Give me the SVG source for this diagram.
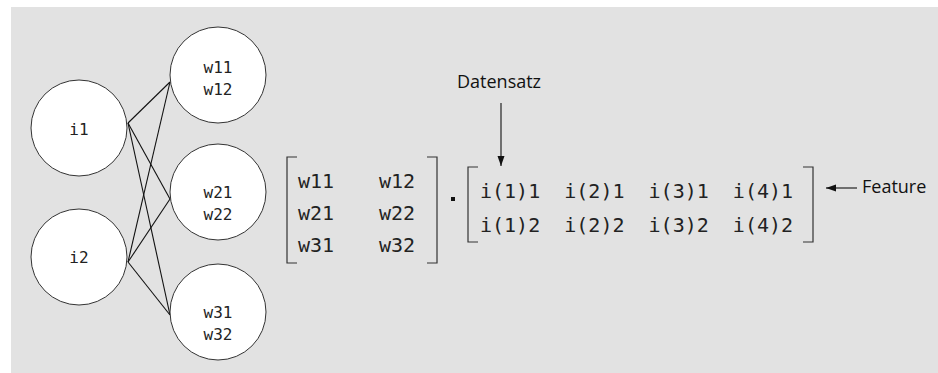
<svg xmlns="http://www.w3.org/2000/svg" width="938" height="373" viewBox="0 0 938 373">
<style>
.node{fill:#fff;stroke:#333;stroke-width:1}
.mono{font-family:"DejaVu Sans Mono","Liberation Mono",monospace;fill:#222}
.ntxt{font-size:16px;text-anchor:middle}
.mat{font-size:20px}
.lbl{font-family:"Open Sans","Liberation Sans",sans-serif;font-size:18px;fill:#111}
.br{fill:none;stroke:#333;stroke-width:1.2}
.edge{stroke:#111;stroke-width:1.1;fill:none}
</style>
<defs>
<marker id="ah" markerWidth="10" markerHeight="8" refX="10" refY="3.5" orient="auto" markerUnits="userSpaceOnUse">
<path d="M0,0 L10,3.5 L0,7 Z" fill="#111"/>
</marker>
</defs>
<rect x="11" y="7" width="927" height="366" fill="#e2e2e2"/>
<g id="connectors">
<line class="edge" x1="128" y1="123" x2="170" y2="82"/>
<line class="edge" x1="128" y1="123" x2="170" y2="199"/>
<line class="edge" x1="128" y1="123" x2="170" y2="315"/>
<line class="edge" x1="128" y1="262" x2="170" y2="82"/>
<line class="edge" x1="128" y1="262" x2="170" y2="199"/>
<line class="edge" x1="128" y1="262" x2="170" y2="315"/>
<line class="edge" x1="501" y1="103" x2="501" y2="166" marker-end="url(#ah)"/>
<line class="edge" x1="857" y1="188" x2="826" y2="188" marker-end="url(#ah)"/>
</g>
<g id="i1">
<circle class="node" cx="79" cy="128" r="48"/>
<text class="mono ntxt" x="79" y="135">i1</text>
</g>
<g id="i2">
<circle class="node" cx="79" cy="257" r="48"/>
<text class="mono ntxt" x="79" y="263">i2</text>
</g>
<g id="w1">
<circle class="node" cx="218" cy="75" r="48"/>
<text class="mono ntxt" x="218" y="73">w11</text>
<text class="mono ntxt" x="218" y="95">w12</text>
</g>
<g id="w2">
<circle class="node" cx="218" cy="192" r="48"/>
<text class="mono ntxt" x="218" y="198">w21</text>
<text class="mono ntxt" x="218" y="220">w22</text>
</g>
<g id="w3">
<circle class="node" cx="218" cy="312" r="48"/>
<text class="mono ntxt" x="218" y="318">w31</text>
<text class="mono ntxt" x="218" y="340">w32</text>
</g>
<g id="matrixW">
<path class="br" d="M297,157 H287 V263 H297"/>
<path class="br" d="M427,157 H437 V263 H427"/>
<text class="mono mat" x="298" y="188">w11</text>
<text class="mono mat" x="379" y="188">w12</text>
<text class="mono mat" x="298" y="220">w21</text>
<text class="mono mat" x="379" y="220">w22</text>
<text class="mono mat" x="298" y="252">w31</text>
<text class="mono mat" x="379" y="252">w32</text>
</g>
<g id="dot">
<rect x="451" y="197" width="4" height="4" fill="#111"/>
</g>
<g id="matrixI">
<path class="br" d="M478,167 H468 V242 H478"/>
<path class="br" d="M803,167 H813 V242 H803"/>
<text class="mono mat" x="480" y="198" xml:space="preserve">i(1)1  i(2)1  i(3)1  i(4)1</text>
<text class="mono mat" x="480" y="232" xml:space="preserve">i(1)2  i(2)2  i(3)2  i(4)2</text>
</g>
<g id="datensatz">
<text class="lbl" x="457" y="88">Datensatz</text>
</g>
<g id="feature">
<text class="lbl" x="862" y="193">Feature</text>
</g>
</svg>
